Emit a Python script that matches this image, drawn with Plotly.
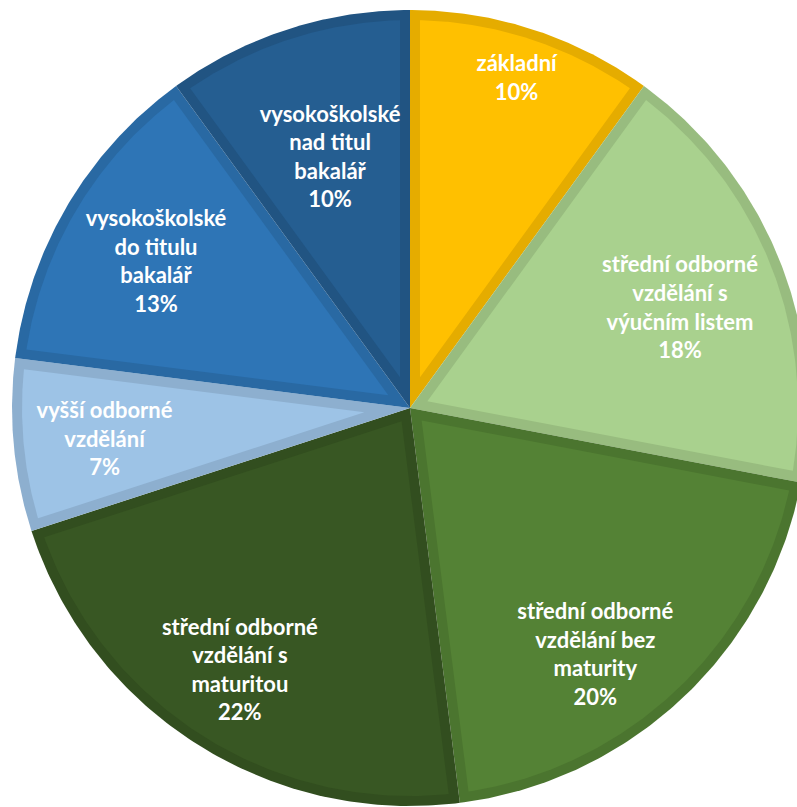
import math
import plotly.graph_objects as go

# Education level shares (percent), clockwise from 12 o'clock
categories = [
    "základní",
    "střední odborné\nvzdělání s\nvýučním listem",
    "střední odborné\nvzdělání bez\nmaturity",
    "střední odborné\nvzdělání s\nmaturitou",
    "vyšší odborné\nvzdělání",
    "vysokoškolské\ndo titulu\nbakalář",
    "vysokoškolské\nnad titul\nbakalář",
]
shares = [10, 18, 20, 22, 7, 13, 10]

fill_colors = ["#FFC000", "#A9D18E", "#548235", "#385723", "#9DC3E6", "#2E75B6", "#255E91"]

# label placement: distance from centre as fraction of radius, angular nudge in degrees
label_radius = [0.867, 0.722, 0.779, 0.789, 0.772, 0.734, 0.657]
label_nudge = [0.0, 1.6, 6.5, 0.4, -0.8, -1.0, 0.2]

R = 398.0      # pie radius in axis units (= pixels)
EDGE = 10.0    # width of the inner darker rim


def darker(hex_color, k=0.9):
    h = hex_color.lstrip("#")
    r, g, b = (int(h[i:i + 2], 16) for i in (0, 2, 4))
    return "rgb({},{},{})".format(int(r * k), int(g * k), int(b * k))


def pt(r, deg):
    a = math.radians(deg)
    return r * math.sin(a), r * math.cos(a)


def arc(r, a0, a1, n=120):
    xs, ys = [], []
    for i in range(n + 1):
        x, y = pt(r, a0 + (a1 - a0) * i / n)
        xs.append(x)
        ys.append(y)
    return xs, ys


fig = go.Figure()

total = float(sum(shares))
start = 0.0
mids = []
for value, color in zip(shares, fill_colors):
    span = 360.0 * value / total
    a0, a1 = start, start + span
    mids.append(a0 + span / 2)

    # full wedge in the rim colour
    ax, ay = arc(R, a0, a1)
    fig.add_trace(go.Scatter(
        x=[0] + ax + [0], y=[0] + ay + [0], mode="lines", fill="toself",
        fillcolor=darker(color), line=dict(width=0), hoverinfo="skip",
        showlegend=False,
    ))

    # inner wedge with edges offset inward by EDGE
    half = math.radians(span / 2)
    apex_r = EDGE / math.sin(half)
    apx, apy = pt(apex_r, a0 + span / 2)
    ri = R - EDGE
    delta = math.degrees(math.asin(EDGE / ri))
    ix, iy = arc(ri, a0 + delta, a1 - delta)
    fig.add_trace(go.Scatter(
        x=[apx] + ix + [apx], y=[apy] + iy + [apy], mode="lines", fill="toself",
        fillcolor=color, line=dict(width=0), hoverinfo="skip",
        showlegend=False,
    ))
    start = a1

# slice labels
lx, ly, lt = [], [], []
for name, value, mid, rf, nudge in zip(categories, shares, mids, label_radius, label_nudge):
    x, y = pt(R * rf, mid + nudge)
    lx.append(x)
    ly.append(y)
    lt.append("<b>" + name.replace("\n", "<br>") + "<br>{}%</b>".format(value))

fig.add_trace(go.Scatter(
    x=lx, y=ly, text=lt, mode="text", textposition="middle center",
    textfont=dict(family="Lato, Calibri, sans-serif", size=22, color="white"),
    hoverinfo="skip", showlegend=False,
))

fig.update_layout(
    width=797, height=807, autosize=False,
    margin=dict(l=0, r=0, t=0, b=0, pad=0),
    paper_bgcolor="white", plot_bgcolor="white",
    xaxis=dict(range=[-410, 387], visible=False, fixedrange=True),
    yaxis=dict(range=[-399, 408], visible=False, fixedrange=True),
)

fig.write_html("out.html")
